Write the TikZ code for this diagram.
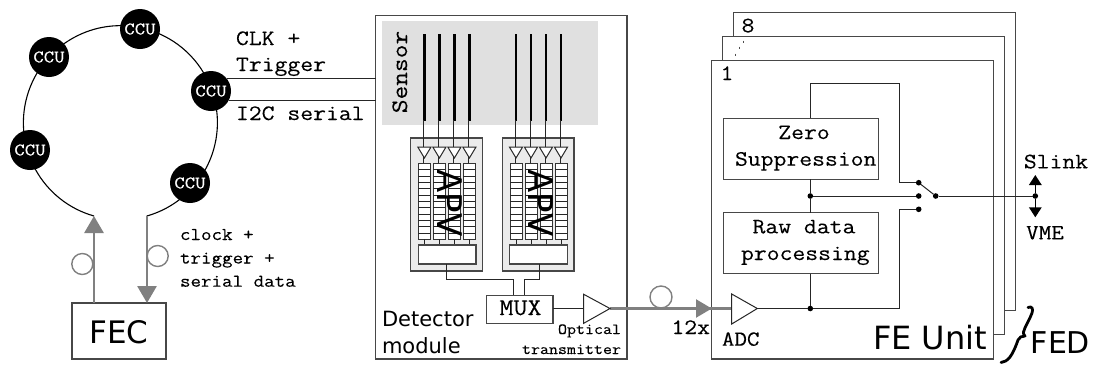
\documentclass[tikz,border=0pt]{standalone}
\usepackage{fontspec}
\setmainfont{DejaVu Sans}
\newfontfamily\mymono[FakeBold=0.15,FakeStretch=1.135]{Latin Modern Mono}
\usetikzlibrary{arrows.meta,calc}
\newcommand\mf[1]{\mymono\fontsize{#1}{#1}\selectfont}
\newcommand\sn[1]{\fontsize{#1}{#1}\selectfont}
\newcommand\bx[6][]{%
  \pgfmathsetmacro\bw{#5-#3}\pgfmathsetmacro\bh{#6-#4}%
  \pgfmathsetmacro\bcx{(#5+#3)/2}\pgfmathsetmacro\bcy{(#6+#4)/2}%
  \node[boxn,minimum width=\bw pt,minimum height=\bh pt,#1] (#2) at (\bcx,\bcy) {};}
\tikzset{
  boxn/.style={rectangle,draw=black!72,line width=1.1pt,inner sep=0pt,outer sep=0pt,fill=white},
  wire/.style={draw=black!85,line width=1pt},
  fiber/.style={draw=black!50,line width=2.8pt},
  fiberarrow/.style={fiber,-{Triangle[length=17pt,width=19pt]}},
  loopc/.style={draw=black!50,line width=1.4pt},
  ccu/.style={circle,fill=black,text=white,minimum size=40pt,inner sep=0pt,outer sep=0pt,font=\mf{17.8}},
  dotn/.style={circle,fill=black,minimum size=5.6pt,inner sep=0pt,outer sep=0pt},
  tx/.style={anchor=base,inner sep=0pt,outer sep=0pt},
  amp/.style={draw=black!85,line width=1pt,fill=white},
  strip/.style={draw=black,line width=2.4pt},
  outarrow/.style={draw=black,line width=1.5pt,-{Triangle[length=10pt,width=12.5pt]}}
}
\begin{document}
\begin{tikzpicture}[x=1pt,y=-1pt]
\useasboundingbox[fill=white] (0,0) rectangle (1094,365);
% --- ring
\coordinate (ringa) at (94,216);
\coordinate (ringb) at (147,216);
\draw[draw=black,line width=1.1pt] (ringa) arc[start angle=254.2,end angle=-74.2,radius=97pt];
\node[ccu] (c1) at (49,57) {CCU};
\node[ccu] (c2) at (140,29) {CCU};
\node[ccu] (c3) at (211,91) {CCU};
\node[ccu] (c4) at (30,150) {CCU};
\node[ccu] (c5) at (190,183) {CCU};
% --- FEC
\bx{fec}{72}{303}{166}{359}
\node[tx,font=\sn{31}] (fect) at (119,343.3) {FEC};
\coordinate (feca) at (ringa |- fec.north);
\coordinate (fecb) at (ringb |- fec.north);
\draw[fiberarrow] (feca) -- (ringa);
\draw[fiberarrow] (ringb) -- (fecb);
\node[loopc,circle,minimum size=21pt,inner sep=0pt] (la) at (82.3,264) {};
\node[loopc,circle,minimum size=21pt,inner sep=0pt] (lb) at (157.7,256) {};
\node[tx,anchor=base west,font=\mf{18}] (t1) at (180,240) {clock +};
\node[tx,anchor=base west,font=\mf{18}] (t2) at (180,263.5) {trigger +};
\node[tx,anchor=base west,font=\mf{18}] (t3) at (180,286.7) {serial data};
\node[tx,anchor=base west,font=\mf{22}] (t4) at (236,45) {CLK +};
\node[tx,anchor=base west,font=\mf{22}] (t5) at (236,71) {Trigger};
\node[tx,anchor=base west,font=\mf{22}] (t6) at (236,120) {I2C serial};
% --- detector module
\bx{det}{375.7}{15.7}{627}{359}
\draw[wire] (c3.37) -- (c3.37 -| det.west);
\draw[wire] (c3.-27) -- (c3.-27 -| det.west);
\bx[draw=none,fill=black!12]{sens}{382}{21}{598}{125}
\node[tx,rotate=90,font=\mf{23.5}] (st) at (407,72) {Sensor};
\bx[fill=black!8]{apva}{410.7}{138}{482.3}{271}
\bx[fill=black!8]{apvb}{502.3}{138}{574}{271}
\foreach \xo in {0,91.6}{
  \foreach \i in {0,1,2,3}{
    \pgfmathsetmacro\xx{424.4+\i*15+\xo}
    \draw[strip] (\xx,34) -- (\xx,120.7);
    \draw[wire] (\xx-0.6,120) -- (\xx-0.6,163);
    \draw[amp] (\xx-6.6,147) -- (\xx+6.6,147) -- (\xx,158) -- cycle;
    \draw[draw=black!80,line width=.8pt,fill=white] (\xx-6,163.4) rectangle (\xx+6,239.3);
    \foreach \r in {1,...,11}{
      \pgfmathsetmacro\yy{163.4+\r*6.325}
      \draw[draw=black!85,line width=.8pt] (\xx-6,\yy) -- (\xx+6,\yy);
    }
    \draw[wire] (\xx,239.3) -- (\xx,245);
  }
}
\bx{coa}{418.3}{245}{476}{264}
\bx{cob}{509.3}{245}{567.7}{264}
\node[tx,rotate=-90,font=\sn{34}] (apvta) at (437,203) {APV};
\node[tx,rotate=-90,font=\sn{34}] (apvtb) at (528.6,203) {APV};
\bx{mux}{486.7}{295.3}{553}{323.7}
\node[tx,font=\mf{24}] (muxt) at (520.5,315) {MUX};
\coordinate (ma) at (513.3,279.3);
\coordinate (mb) at (524.3,279.3);
\draw[wire] (446.7,264) |- (ma) -- (ma |- mux.north);
\draw[wire] (539.3,264) |- (mb) -- (mb |- mux.north);
\node[tx,anchor=base west,font=\sn{21}] (d1) at (382,326.7) {Detector};
\node[tx,anchor=base west,font=\sn{21}] (d2) at (382,353.3) {module};
\node[tx,anchor=base east,font=\mf{15.4}] (o1) at (621,334) {Optical};
\node[tx,anchor=base east,font=\mf{15.4}] (o2) at (621,354) {transmitter};
% --- FE units
\coordinate (u8b) at (1015.3,12.7);
\coordinate (u8c) at (1004.7,310.7);
\coordinate (u2a) at (722.3,60.7);
\coordinate (u2b) at (1004.7,36.7);
\coordinate (u2c) at (993.7,334.3);
\draw[boxn,fill=none] (733.3,36.7) |- (u8b) |- (u8c);
\draw[boxn,fill=none] (u2a) |- (u2b) |- (u2c);
\bx{u1}{711.7}{60.7}{993.7}{359}
\node[tx,font=\mf{22}] (n1) at (727,80) {1};
\node[tx,font=\mf{22}] (n8) at (748,32.3) {8};
\draw[draw=black!70,line width=1pt] (735,53.5) -- (735,56) (739,46.5) -- (739,49) (743,40.5) -- (743,43);
\bx{zs}{723.3}{118.3}{878.3}{179.3}
\bx{raw}{723.3}{212.7}{878.3}{273.7}
\node[tx,font=\mf{22}] (z1) at (804,139) {Zero};
\node[tx,font=\mf{22}] (z2) at (805.7,165.7) {Suppression};
\node[tx,font=\mf{22}] (r1) at (804,233.3) {Raw data};
\node[tx,font=\mf{22}] (r2) at (805.3,260) {processing};
\node[tx,font=\mf{21.5}] (adct) at (740.7,345.7) {ADC};
\node[tx,font=\sn{32}] (fet) at (930,349.3) {FE Unit};
\node[tx,font=\mf{22}] (tw) at (690.7,334) {12x};
% --- optical link
\coordinate (optl) at (583.7,308.5);
\coordinate (optt) at (610,308.5);
\coordinate (adcl) at (731.7,308.5);
\coordinate (adct2) at (757.3,308.5);
\draw[wire] (mux.east |- optl) -- (optl);
\draw[fiber] (optt) -- (adcl);
\fill[black!50] (711.7,308.5) -- (696,299.2) -- (696,317.8) -- cycle;
\draw[amp] (583.7,294.3) -- (optt) -- (583.7,323.3) -- cycle;
\draw[amp] (731.7,294) -- (adct2) -- (731.7,324) -- cycle;
\node[loopc,circle,minimum size=22pt,inner sep=0pt] (lc) at (661,297) {};
% --- switch logic
\node[dotn] (s1) at (918.7,182.7) {};
\node[dotn] (s2) at (918.7,196) {};
\node[dotn] (s3) at (918.7,209.3) {};
\node[dotn] (sp) at (935.7,196) {};
\node[dotn] (bus) at (810.3,196) {};
\node[dotn] (adcn) at (810.3,308.5) {};
\node[dotn] (ob) at (1035.3,196) {};
\coordinate (fb1) at (899,83.3);
\coordinate (fb2) at (899,182.7);
\coordinate (fb3) at (899,209.3);
\draw[wire] (zs.north -| bus) |- (fb1) -- (fb2) -- (s1);
\draw[wire] (zs.south -| bus) -- (bus) -- (raw.north -| bus);
\draw[wire] (raw.south -| bus) -- (adcn);
\draw[wire] (bus) -- (s2);
\draw[wire] (s1) -- (sp);
\draw[wire] (adct2) -- (adcn) -- (adcn -| fb3) -- (fb3) -- (s3);
\draw[wire] (sp) -- (ob);
\coordinate (slk) at (1035.3,175);
\coordinate (vmk) at (1035.3,217.3);
\draw[outarrow] (ob) -- (slk);
\draw[outarrow] (ob) -- (vmk);
\node[tx,font=\mf{22}] (sl) at (1056,168.3) {Slink};
\node[tx,font=\mf{21.5}] (vm) at (1045,239.3) {VME};
% --- FED
\draw[draw=black,line width=2.8pt,line cap=round,line join=round] (1028,307.5) .. controls (1032,305.5) and (1033.5,309) .. (1032,313) .. controls (1030,319) and (1025,326) .. (1023.5,332) .. controls (1023,334) and (1024,335.5) .. (1025,336) .. controls (1022,336) and (1019,337) .. (1018,340) .. controls (1016,346) and (1013,353) .. (1010,357) .. controls (1007,361) and (1004,362) .. (1001,362.5);
\node[tx,font=\sn{30}] (fed) at (1060.4,353.5) {FED};
\end{tikzpicture}
\end{document}
